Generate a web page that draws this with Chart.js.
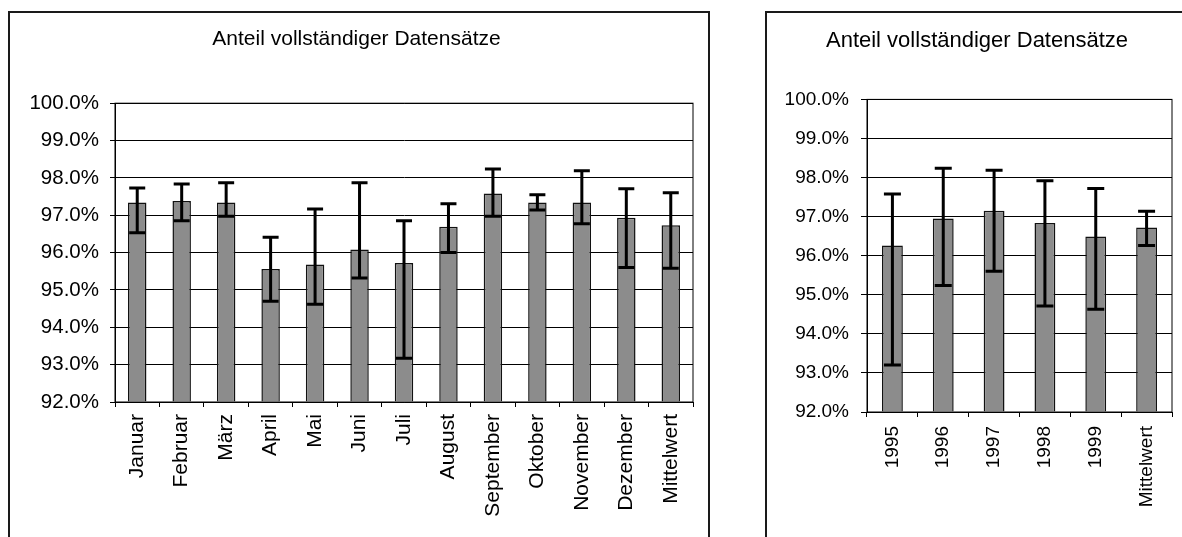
<!DOCTYPE html>
<html>
<head>
<meta charset="utf-8">
<script src="https://cdn.jsdelivr.net/npm/chart.js@4"></script>
<style>
  html, body { margin: 0; padding: 0; background: #fff; overflow: hidden; width: 1182px; height: 537px; }
  .box { position: absolute; border: 2px solid #1a1a1a; box-sizing: border-box; }
  .wrap { position: absolute; }
</style>
</head>
<body>
<div class="box" style="left:8px; top:11px; width:702px; height:600px;"></div>
<div class="box" style="left:765px; top:11px; width:440px; height:600px;"></div>
<div class="wrap" style="left:10px; top:13px; width:697px; height:524px;"><canvas id="monthChart"></canvas></div>
<div class="wrap" style="left:768px; top:13px; width:414px; height:524px;"><canvas id="yearChart"></canvas></div>
<script>
const chartTitle = 'Anteil vollständiger Datensätze';

const months = ['Januar', 'Februar', 'März', 'April', 'Mai', 'Juni', 'Juli', 'August', 'September', 'Oktober', 'November', 'Dezember', 'Mittelwert'];
const monthShare = [97.34, 97.38, 97.34, 95.56, 95.68, 96.08, 95.72, 96.69, 97.58, 97.34, 97.34, 96.93, 96.73];
const monthHigh = [97.73, 97.84, 97.87, 96.41, 97.17, 97.87, 96.85, 97.31, 98.24, 97.55, 98.19, 97.71, 97.60];
const monthLow = [96.53, 96.85, 96.97, 94.70, 94.62, 95.32, 93.17, 96.00, 96.97, 97.14, 96.77, 95.60, 95.58];

const years = ['1995', '1996', '1997', '1998', '1999', 'Mittelwert'];
const yearShare = [96.26, 96.95, 97.15, 96.84, 96.49, 96.72];
const yearHigh = [97.58, 98.24, 98.19, 97.92, 97.72, 97.14];
const yearLow = [93.20, 95.24, 95.60, 94.71, 94.63, 96.26];

const yMin = 92;
const yMax = 100;
const yStep = 1;

const fontFamily = '"Liberation Sans", Arial, sans-serif';

// error bars + frame around the plot area
const errorBarPlugin = {
    id: 'errorBars',
    afterDatasetsDraw(chart, args, opts) {
        const ctx = chart.ctx;
        const yScale = chart.scales.y;
        const meta = chart.getDatasetMeta(0);
        ctx.save();
        ctx.strokeStyle = '#000';
        ctx.lineWidth = 3;
        meta.data.forEach((bar, i) => {
            const yHi = yScale.getPixelForValue(opts.high[i]);
            const yLo = yScale.getPixelForValue(opts.low[i]);
            const half = opts.cap / 2;
            ctx.beginPath();
            ctx.moveTo(bar.x, yHi);
            ctx.lineTo(bar.x, yLo);
            ctx.moveTo(bar.x - half, yHi);
            ctx.lineTo(bar.x + half, yHi);
            ctx.moveTo(bar.x - half, yLo);
            ctx.lineTo(bar.x + half, yLo);
            ctx.stroke();
        });
        const a = chart.chartArea;
        ctx.lineWidth = 1;
        ctx.strokeRect(a.left, a.top, a.right - a.left, a.bottom - a.top);
        ctx.restore();
    }
};

function makeChart(id, labels, share, high, low, s) {
    const ctx = document.getElementById(id).getContext('2d');
    return new Chart(ctx, {
        type: 'bar',
        data: {
            labels: labels,
            datasets: [{
                data: share,
                base: yMin,
                backgroundColor: '#8c8c8c',
                borderColor: '#111',
                borderWidth: 1.5,
                barPercentage: s.barPct,
                categoryPercentage: 1
            }]
        },
        options: {
            responsive: true,
            maintainAspectRatio: false,
            animation: false,
            layout: { padding: { left: s.padLeft, right: s.padRight, top: 0, bottom: 0 } },
            plugins: {
                legend: { display: false },
                tooltip: { enabled: false },
                title: {
                    display: true,
                    text: chartTitle,
                    color: '#000',
                    font: { family: fontFamily, size: s.titleSize, weight: 'normal' },
                    padding: { top: s.titleTop, bottom: s.titleBottom }
                },
                errorBars: { high: high, low: low, cap: s.cap }
            },
            scales: {
                x: {
                    afterFit: sc => { sc.height = s.xHeight; },
                    grid: { display: true, drawOnChartArea: false, drawTicks: true, tickLength: 5, color: '#000', offset: true },
                    border: { color: '#000', width: 1 },
                    ticks: {
                        color: '#000',
                        minRotation: 90,
                        maxRotation: 90,
                        autoSkip: false,
                        padding: s.xPad,
                        font: { family: fontFamily, size: s.xFont }
                    }
                },
                y: {
                    min: yMin,
                    max: yMax,
                    afterFit: sc => { sc.width = s.yWidth; },
                    grid: { color: '#000', tickLength: s.yTick, lineWidth: 1 },
                    border: { color: '#000', width: 1 },
                    ticks: {
                        stepSize: yStep,
                        color: '#000',
                        padding: s.yPad,
                        font: { family: fontFamily, size: s.yFont },
                        callback: v => v.toFixed(1) + '%'
                    }
                }
            }
        },
        plugins: [errorBarPlugin]
    });
}

makeChart('monthChart', months, monthShare, monthHigh, monthLow, {
    barPct: 0.415, cap: 16,
    padLeft: 10, padRight: 14, yWidth: 95,
    titleSize: 21, titleTop: 14, titleBottom: 51,
    xHeight: 135, xPad: 7, xFont: 21,
    yTick: 5, yPad: 11, yFont: 20.5
});

makeChart('yearChart', years, yearShare, yearHigh, yearLow, {
    barPct: 0.41, cap: 17,
    padLeft: 14, padRight: 10, yWidth: 85,
    titleSize: 22, titleTop: 15, titleBottom: 45,
    xHeight: 125, xPad: 9, xFont: 19,
    yTick: 6, yPad: 12, yFont: 19
});
</script>
</body>
</html>
